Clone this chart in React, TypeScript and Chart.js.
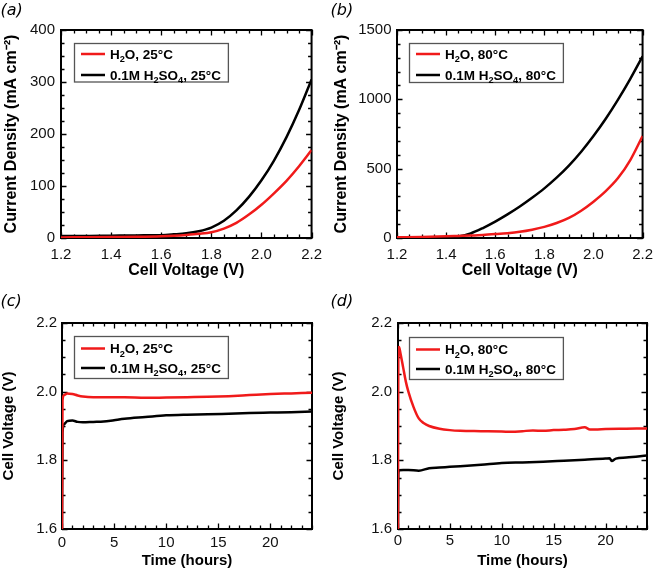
import React, { useEffect, useRef } from 'react';
import { Chart, registerables } from 'chart.js';

Chart.register(...registerables);

// ---------------- Data ----------------
// (a) polarization curves at 25 °C
const voltA = [1.2, 1.3, 1.4, 1.5, 1.6, 1.65, 1.7, 1.75, 1.8, 1.85, 1.9, 1.95, 2.0, 2.05, 2.1, 2.15, 2.2];
const currH2O25 = [1, 1.5, 2, 2.5, 3.5, 4.5, 6, 8, 11, 18, 29, 45, 64, 86, 110, 138, 169];
const currAcid25 = [4, 4, 4.5, 5, 5.5, 7, 9, 13, 20, 33, 53, 79, 111, 149, 194, 246, 305];

// (b) polarization curves at 80 °C
const voltB = [1.2, 1.3, 1.4, 1.45, 1.5, 1.55, 1.6, 1.65, 1.7, 1.75, 1.8, 1.85, 1.9, 1.95, 2.0, 2.05, 2.1, 2.15, 2.2];
const currH2O80 = [5, 8, 12, 15, 18, 22, 28, 35, 45, 60, 80, 108, 145, 197, 262, 338, 432, 562, 735];
const currAcid80 = [3, 4, 6, 10, 33, 72, 118, 170, 227, 290, 358, 435, 522, 622, 735, 860, 998, 1148, 1310];

// (c) durability at 25 °C
const timeC = [0, 0.05, 0.2, 0.5, 1, 1.5, 2, 3, 4, 5, 6, 8, 10, 12, 14, 16, 18, 20, 22, 24];
const voltH2O25 = [1.6, 1.975, 1.99, 1.995, 1.993, 1.989, 1.986, 1.984, 1.984, 1.984, 1.984, 1.982, 1.983, 1.984, 1.985, 1.987, 1.99, 1.993, 1.995, 1.997];
const voltAcid25 = [1.6, 1.88, 1.905, 1.914, 1.916, 1.912, 1.911, 1.912, 1.913, 1.917, 1.921, 1.926, 1.931, 1.933, 1.934, 1.936, 1.938, 1.939, 1.94, 1.942];

// (d) durability at 80 °C
const timeDH2O = [0, 0.03, 0.1, 0.25, 0.5, 0.75, 1, 1.5, 2, 2.5, 3, 4, 5, 6, 8, 10, 11, 12, 13, 14, 15, 16, 17, 18, 18.5, 19, 20, 22, 24];
const voltH2O80 = [1.6, 2.1, 2.13, 2.11, 2.07, 2.03, 2.0, 1.955, 1.922, 1.908, 1.9, 1.892, 1.888, 1.886, 1.885, 1.884, 1.883, 1.885, 1.887, 1.886, 1.888, 1.889, 1.891, 1.896, 1.89, 1.89, 1.891, 1.892, 1.893];
const timeDAcid = [0, 0.03, 0.1, 0.5, 1, 2, 3, 4, 5, 6, 8, 10, 12, 14, 16, 18, 20, 20.4, 20.6, 21, 22, 24];
const voltAcid80 = [1.6, 1.76, 1.771, 1.772, 1.772, 1.77, 1.777, 1.779, 1.781, 1.783, 1.787, 1.792, 1.794, 1.796, 1.799, 1.802, 1.805, 1.806, 1.798, 1.805, 1.808, 1.814];

// Tick values
const voltTicks = [1.2, 1.4, 1.6, 1.8, 2.0, 2.2];
const currTicksA = [0, 100, 200, 300, 400];
const currTicksB = [0, 500, 1000, 1500];
const timeTicks = [0, 5, 10, 15, 20];
const cellVoltTicks = [1.6, 1.8, 2.0, 2.2];

// Text
const panelLabels = ['(a)', '(b)', '(c)', '(d)'];
const labelsA = ['H₂O, 25°C', '0.1M H₂SO₄, 25°C'];
const labelsB = ['H₂O, 80°C', '0.1M H₂SO₄, 80°C'];
const titleCurrent = 'Current Density (mA cm⁻²)';
const titleCellVoltage = 'Cell Voltage (V)';
const titleTime = 'Time (hours)';

// ---------------- Styling ----------------
const RED = '#f01a1a';
const BLACK = '#000000';
const SANS = '"Liberation Sans", Arial, sans-serif';
const SUBS = '₀₁₂₃₄₅₆₇₈₉';

type Series = { label: string; xs: number[]; ys: number[]; color: string };
type PanelCfg = {
  key: string; left: number; top: number; width: number; height: number;
  padTop: number; padRight: number; yAxisWidth: number; xAxisHeight: number;
  xMin: number; xMax: number; xTicks: number[]; xMinor: number; xDecimals: number;
  yMin: number; yMax: number; yTicks: number[]; yMinor: number; yDecimals: number;
  xTitle: string; yTitle: string; titleSize: number; xTitlePad: number; yTitlePad: number;
  xTickPad: number; yTickPad: number;
  label: string; labelBaseline: number;
  series: Series[];
  legendDx: number; legendDy: number; legendH: number; legendRow1: number; legendRow2: number;
};

function drawRich(ctx: CanvasRenderingContext2D, text: string, x: number, baseline: number, size: number) {
  const runs: { t: string; sub: boolean }[] = [];
  for (const ch of Array.from(text)) {
    const sub = SUBS.indexOf(ch) >= 0;
    const c = sub ? String(SUBS.indexOf(ch)) : ch;
    const last = runs[runs.length - 1];
    if (last && last.sub === sub) last.t += c;
    else runs.push({ t: c, sub });
  }
  let cx = x;
  for (const r of runs) {
    if (r.sub) {
      ctx.font = `bold ${size * 0.68}px ${SANS}`;
      ctx.fillText(r.t, cx, baseline + size * 0.24);
    } else {
      ctx.font = `bold ${size}px ${SANS}`;
      ctx.fillText(r.t, cx, baseline);
    }
    cx += ctx.measureText(r.t).width;
  }
  return cx - x;
}

function measureRich(ctx: CanvasRenderingContext2D, text: string, size: number) {
  let w = 0;
  for (const ch of Array.from(text)) {
    const si = SUBS.indexOf(ch);
    if (si >= 0) {
      ctx.font = `bold ${size * 0.68}px ${SANS}`;
      w += ctx.measureText(String(si)).width;
    } else {
      ctx.font = `bold ${size}px ${SANS}`;
      w += ctx.measureText(ch).width;
    }
  }
  return w;
}

function makeDecor(cfg: PanelCfg) {
  return {
    id: 'decor' + cfg.key,
    beforeDatasetsDraw(chart: any) {
      const { ctx, chartArea: a, scales } = chart;
      const xs = scales.x;
      const ys = scales.y;
      ctx.save();
      ctx.strokeStyle = '#000';
      ctx.lineWidth = 2;
      ctx.strokeRect(a.left, a.top, a.right - a.left, a.bottom - a.top);
      ctx.lineWidth = 1.3;
      ctx.beginPath();
      const nX = Math.round((cfg.xMax - cfg.xMin) / cfg.xMinor);
      for (let i = 0; i <= nX; i++) {
        const v = cfg.xMin + i * cfg.xMinor;
        const major = cfg.xTicks.some((t) => Math.abs(t - v) < 1e-6);
        const len = major ? 5.5 : 3.5;
        const px = Math.round(xs.getPixelForValue(v)) + 0.5;
        ctx.moveTo(px, a.bottom);
        ctx.lineTo(px, a.bottom - len);
        ctx.moveTo(px, a.top);
        ctx.lineTo(px, a.top + len);
      }
      const nY = Math.round((cfg.yMax - cfg.yMin) / cfg.yMinor);
      for (let i = 0; i <= nY; i++) {
        const v = cfg.yMin + i * cfg.yMinor;
        const major = cfg.yTicks.some((t) => Math.abs(t - v) < 1e-6);
        const len = major ? 5.5 : 3.5;
        const py = Math.round(ys.getPixelForValue(v)) + 0.5;
        ctx.moveTo(a.left, py);
        ctx.lineTo(a.left + len, py);
        ctx.moveTo(a.right, py);
        ctx.lineTo(a.right - len, py);
      }
      ctx.stroke();
      ctx.restore();
    },
    afterDatasetsDraw(chart: any) {
      const { ctx, chartArea: a } = chart;
      ctx.save();
      ctx.fillStyle = '#000';
      ctx.font = `italic 16px "DejaVu Sans", Verdana, sans-serif`;
      ctx.textBaseline = 'alphabetic';
      ctx.textAlign = 'left';
      ctx.fillText(cfg.label, 0.5, cfg.labelBaseline);
      const size = 13.5;
      const bx = a.left + cfg.legendDx;
      const by = a.top + cfg.legendDy;
      const textX = 36;
      let maxW = 0;
      for (const s of cfg.series) maxW = Math.max(maxW, measureRich(ctx, s.label, size));
      const bw = textX + maxW + 7;
      ctx.fillStyle = '#fff';
      ctx.fillRect(bx, by, bw, cfg.legendH);
      ctx.strokeStyle = '#555';
      ctx.lineWidth = 1.3;
      ctx.strokeRect(bx + 0.5, by + 0.5, bw, cfg.legendH);
      const rows = [cfg.legendRow1, cfg.legendRow2];
      cfg.series.forEach((s, i) => {
        const cy = by + rows[i];
        ctx.strokeStyle = s.color;
        ctx.lineWidth = 2.5;
        ctx.beginPath();
        ctx.moveTo(bx + 7, cy);
        ctx.lineTo(bx + 31, cy);
        ctx.stroke();
        ctx.fillStyle = '#000';
        drawRich(ctx, s.label, bx + textX, cy + size * 0.36, size);
      });
      ctx.restore();
    },
  };
}

function Panel({ cfg }: { cfg: PanelCfg }) {
  const ref = useRef<HTMLCanvasElement>(null);
  useEffect(() => {
    const canvas = ref.current;
    if (!canvas) return;
    const tickFont = { family: SANS, size: 15 };
    const titleFont = { family: SANS, size: cfg.titleSize, weight: 'bold' as const };
    const chart = new Chart(canvas, {
      type: 'line',
      data: {
        datasets: cfg.series.map((s) => ({
          label: s.label,
          data: s.xs.map((x, i) => ({ x, y: s.ys[i] })),
          borderColor: s.color,
          backgroundColor: s.color,
          borderWidth: 2.5,
          pointRadius: 0,
          cubicInterpolationMode: 'monotone' as const,
          fill: false,
        })),
      },
      options: {
        animation: false,
        responsive: false,
        devicePixelRatio: 1,
        layout: { padding: { left: 0, top: cfg.padTop, right: cfg.padRight, bottom: 0 } },
        plugins: { legend: { display: false }, tooltip: { enabled: false }, title: { display: false } },
        scales: {
          x: {
            type: 'linear',
            min: cfg.xMin,
            max: cfg.xMax,
            afterBuildTicks: (s: any) => { s.ticks = cfg.xTicks.map((v) => ({ value: v })); },
            afterFit: (s: any) => { s.height = cfg.xAxisHeight; },
            grid: { display: false, drawTicks: false },
            border: { display: false },
            ticks: {
              autoSkip: false, maxRotation: 0, padding: cfg.xTickPad, font: tickFont, color: '#111',
              callback: (v: any) => Number(v).toFixed(cfg.xDecimals),
            },
            title: { display: true, text: cfg.xTitle, font: titleFont, color: '#000', padding: { top: 0, bottom: cfg.xTitlePad } },
          },
          y: {
            type: 'linear',
            min: cfg.yMin,
            max: cfg.yMax,
            afterBuildTicks: (s: any) => { s.ticks = cfg.yTicks.map((v) => ({ value: v })); },
            afterFit: (s: any) => { s.width = cfg.yAxisWidth; },
            grid: { display: false, drawTicks: false },
            border: { display: false },
            ticks: {
              autoSkip: false, padding: cfg.yTickPad, font: tickFont, color: '#111',
              callback: (v: any) => Number(v).toFixed(cfg.yDecimals),
            },
            title: { display: true, text: cfg.yTitle, font: titleFont, color: '#000', padding: { top: cfg.yTitlePad, bottom: 0 } },
          },
        },
      },
      plugins: [makeDecor(cfg)],
    } as any);
    return () => chart.destroy();
  }, [cfg]);
  return (
    <canvas
      ref={ref}
      width={cfg.width}
      height={cfg.height}
      style={{ position: 'absolute', left: cfg.left, top: cfg.top, width: cfg.width, height: cfg.height, display: 'block' }}
    />
  );
}

const panels: PanelCfg[] = [
  {
    key: 'a', left: 0, top: 0, width: 330, height: 285,
    padTop: 30, padRight: 16, yAxisWidth: 61, xAxisHeight: 47,
    xMin: 1.2, xMax: 2.2, xTicks: voltTicks, xMinor: 0.05, xDecimals: 1,
    yMin: 0, yMax: 400, yTicks: currTicksA, yMinor: 25, yDecimals: 0,
    xTitle: 'Cell Voltage (V)', yTitle: titleCurrent, titleSize: 16, xTitlePad: 4.4, yTitlePad: 1.9,
    xTickPad: 8, yTickPad: 6,
    label: panelLabels[0], labelBaseline: 14.5,
    series: [
      { label: labelsA[0], xs: voltA, ys: currH2O25, color: RED },
      { label: labelsA[1], xs: voltA, ys: currAcid25, color: BLACK },
    ],
    legendDx: 13, legendDy: 13, legendH: 38.5, legendRow1: 11, legendRow2: 32,
  },
  {
    key: 'b', left: 330, top: 0, width: 331, height: 285,
    padTop: 30, padRight: 12, yAxisWidth: 67, xAxisHeight: 47,
    xMin: 1.2, xMax: 2.2, xTicks: voltTicks, xMinor: 0.05, xDecimals: 1,
    yMin: 0, yMax: 1500, yTicks: currTicksB, yMinor: 100, yDecimals: 0,
    xTitle: 'Cell Voltage (V)', yTitle: titleCurrent, titleSize: 16, xTitlePad: 4.4, yTitlePad: 1.9,
    xTickPad: 8, yTickPad: 5.5,
    label: panelLabels[1], labelBaseline: 14.5,
    series: [
      { label: labelsB[0], xs: voltB, ys: currH2O80, color: RED },
      { label: labelsB[1], xs: voltB, ys: currAcid80, color: BLACK },
    ],
    legendDx: 12, legendDy: 13, legendH: 39, legendRow1: 11, legendRow2: 32,
  },
  {
    key: 'c', left: 0, top: 285, width: 330, height: 286,
    padTop: 38, padRight: 18, yAxisWidth: 62, xAxisHeight: 42,
    xMin: 0, xMax: 24, xTicks: timeTicks, xMinor: 1, xDecimals: 0,
    yMin: 1.6, yMax: 2.2, yTicks: cellVoltTicks, yMinor: 0.05, yDecimals: 1,
    xTitle: titleTime, yTitle: titleCellVoltage, titleSize: 15, xTitlePad: 1.5, yTitlePad: 0,
    xTickPad: 4.5, yTickPad: 5,
    label: panelLabels[2], labelBaseline: 20.5,
    series: [
      { label: labelsA[0], xs: timeC, ys: voltH2O25, color: RED },
      { label: labelsA[1], xs: timeC, ys: voltAcid25, color: BLACK },
    ],
    legendDx: 12, legendDy: 13, legendH: 42, legendRow1: 12.5, legendRow2: 32,
  },
  {
    key: 'd', left: 330, top: 285, width: 331, height: 286,
    padTop: 38, padRight: 14, yAxisWidth: 68, xAxisHeight: 42,
    xMin: 0, xMax: 24, xTicks: timeTicks, xMinor: 1, xDecimals: 0,
    yMin: 1.6, yMax: 2.2, yTicks: cellVoltTicks, yMinor: 0.05, yDecimals: 1,
    xTitle: titleTime, yTitle: titleCellVoltage, titleSize: 15, xTitlePad: 1.5, yTitlePad: 0,
    xTickPad: 3, yTickPad: 6,
    label: panelLabels[3], labelBaseline: 20.5,
    series: [
      { label: labelsB[0], xs: timeDH2O, ys: voltH2O80, color: RED },
      { label: labelsB[1], xs: timeDAcid, ys: voltAcid80, color: BLACK },
    ],
    legendDx: 11, legendDy: 14, legendH: 42, legendRow1: 12.5, legendRow2: 32,
  },
];

export default function App() {
  return (
    <div style={{ position: 'absolute', left: 0, top: 0, width: 661, height: 571, background: '#fff', overflow: 'hidden' }}>
      {panels.map((p) => (
        <Panel key={p.key} cfg={p} />
      ))}
    </div>
  );
}
